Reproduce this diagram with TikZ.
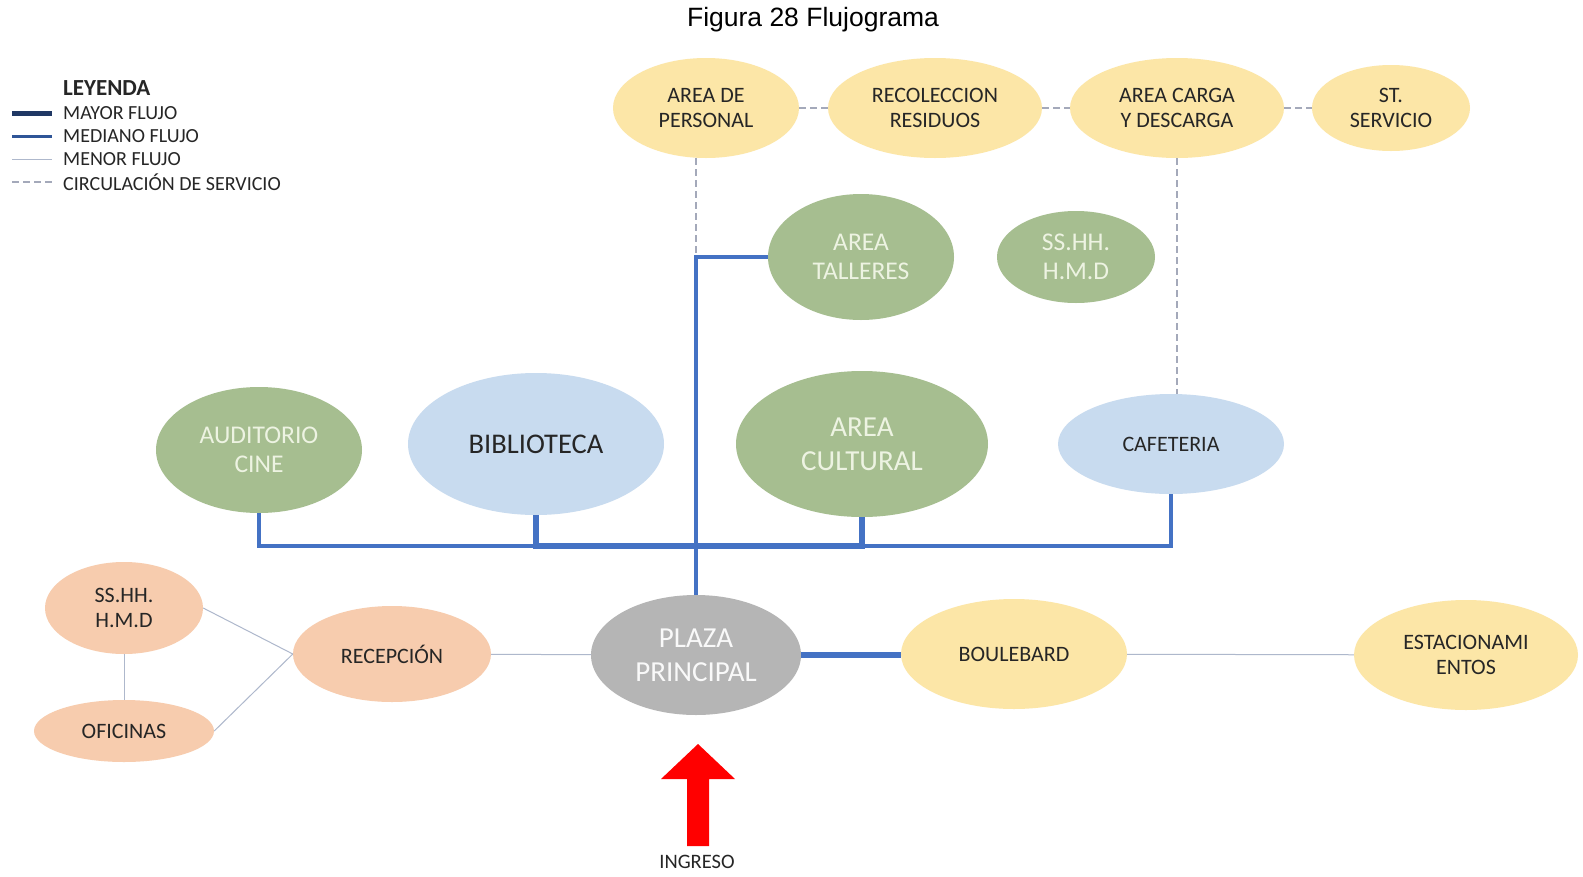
\documentclass[tikz,border=0pt]{standalone}
\usepackage{fontspec}
\setmainfont{Carlito}
\newfontfamily\titlefont{Liberation Sans}
\usetikzlibrary{positioning, shapes.geometric}
\definecolor{zoneyellow}{HTML}{FCE6A7}
\definecolor{zonegreen}{HTML}{A6BE90}
\definecolor{zoneblue}{HTML}{C8DBEF}
\definecolor{zonepeach}{HTML}{F7CCAE}
\definecolor{zonegray}{HTML}{B5B5B5}
\definecolor{flowblue}{HTML}{4472C4}
\definecolor{flownavy}{HTML}{203864}
\definecolor{flowmid}{HTML}{2F5597}
\definecolor{flowthin}{HTML}{AEB8CC}
\definecolor{flowservice}{HTML}{A4A9BA}
\definecolor{textdark}{HTML}{262626}
\definecolor{textlight}{HTML}{EDF3E2}
\tikzstyle{zone-base} = [ellipse, inner sep=0, text centered, align=center,
 text=textdark, font=\fontsize{22}{25}\selectfont]
\tikzstyle{zone-yellow} = [zone-base, fill=zoneyellow]
\tikzstyle{zone-peach} = [zone-base, fill=zonepeach]
\tikzstyle{zone-blue} = [zone-base, fill=zoneblue]
\tikzstyle{zone-green} = [zone-base, fill=zonegreen, text=textlight,
 font=\fontsize{25.5}{29}\selectfont]
\tikzstyle{zone-big} = [font=\fontsize{29}{34}\selectfont]
\tikzstyle{legend-text} = [anchor=west, inner sep=0, text=textdark,
 font=\fontsize{20}{23}\selectfont]
\tikzstyle{major-flow} = [flowblue, line width=6pt]
\tikzstyle{mid-flow} = [flowblue, line width=4.5pt]
\tikzstyle{minor-bus} = [flowblue, line width=3.5pt]
\tikzstyle{minor-flow} = [flowthin, line width=1pt]
\tikzstyle{service-flow} = [flowservice, line width=1.2pt, dash pattern=on 7pt off 4pt]
\newcommand{\LegendRow}[4]{%
    \coordinate (#3_key) at (12,#2);
    \node (#3) [legend-text] at (63,#2) {#4};
    \draw[#1] (#3_key) -- ++(40,0);
}

\begin{document}
\begin{tikzpicture}[x=1pt, y=-1pt]

\useasboundingbox[fill=white] (0,0) rectangle (1583,876);

\node (TITLE) [font=\titlefont\fontsize{26.5}{30}\selectfont] at (813,20) {Figura 28 Flujograma};

% Legend
\node (LEGEND) [legend-text, font=\bfseries\fontsize{23}{27}\selectfont] at (63,88) {LEYENDA};
\LegendRow{flownavy, line width=5pt}{113}{KEY_MAJOR}{MAYOR FLUJO}
\LegendRow{flowmid, line width=3pt}{136}{KEY_MID}{MEDIANO FLUJO}
\LegendRow{flowthin, line width=1pt}{159}{KEY_MINOR}{MENOR FLUJO}
\LegendRow{service-flow}{182}{KEY_SERVICE}{CIRCULACIÓN DE SERVICIO}

% Service zones
\node (AREA_PERSONAL) [zone-yellow, minimum width=186, minimum height=100] at (706,108) {AREA DE\\PERSONAL};
\node (RECOLECCION) [zone-yellow, minimum width=214, minimum height=100] at (935,108) {RECOLECCION\\RESIDUOS};
\node (AREA_CARGA) [zone-yellow, minimum width=214, minimum height=100] at (1177,108) {AREA CARGA\\Y DESCARGA};
\node (ST_SERVICIO) [zone-yellow, minimum width=158, minimum height=86] at (1391,108) {ST.\\SERVICIO};

% Cultural zones
\node (TALLERES) [zone-green, minimum width=186, minimum height=126] at (861,257) {AREA\\TALLERES};
\node (SSHH_PUBLIC) [zone-green, minimum width=158, minimum height=92] at (1076,257) {SS.HH.\\H.M.D};
\node (AUDITORIO) [zone-green, minimum width=206, minimum height=126] at (259,450) {AUDITORIO\\CINE};
\node (BIBLIOTECA) [zone-blue, minimum width=256, minimum height=142, font=\fontsize{28.5}{34}\selectfont] at (536,444) {BIBLIOTECA};
\node (CULTURAL) [zone-green, zone-big, minimum width=252, minimum height=146] at (862,444) {AREA\\CULTURAL};
\node (CAFETERIA) [zone-blue, minimum width=226, minimum height=100] at (1171,444) {CAFETERIA};

% Admin zones
\node (SSHH_ADMIN) [zone-peach, minimum width=158, minimum height=92] at (124,608) {SS.HH.\\H.M.D};
\node (OFICINAS) [zone-peach, minimum width=180, minimum height=62] at (124,731) {OFICINAS};
\node (RECEPCION) [zone-peach, minimum width=198, minimum height=96] at (392,654) {RECEPCIÓN};

% Access zones
\node (PLAZA) [zone-base, zone-big, fill=zonegray, text=white!95!gray, minimum width=210, minimum height=120] at (696,655) {PLAZA\\PRINCIPAL};
\node (BOULEBARD) [zone-yellow, minimum width=226, minimum height=110] at (1014,654) {BOULEBARD};
\node (ESTACIONAMIENTOS) [zone-yellow, minimum width=224, minimum height=110] at (1466,655) {ESTACIONAMI\\ENTOS};

% Service circulation
\draw[service-flow] (AREA_PERSONAL) -- (RECOLECCION);
\draw[service-flow] (RECOLECCION) -- (AREA_CARGA);
\draw[service-flow] (AREA_CARGA) -- (ST_SERVICIO);
\coordinate (TALLER_JOIN) at (PLAZA.north |- TALLERES.west);
\draw[service-flow] (AREA_PERSONAL.south -| TALLER_JOIN) -- (TALLER_JOIN);
\draw[service-flow] (AREA_CARGA.south) -- (AREA_CARGA.south |- CAFETERIA.north);

% Main flows
\coordinate (BUS) at (696,546);
\draw[minor-bus] (AUDITORIO.south) |- (CAFETERIA.south |- BUS) -- (CAFETERIA.south);
\draw[major-flow] (BIBLIOTECA.south) |- (CULTURAL.south |- BUS) -- (CULTURAL.south);
\draw[mid-flow] (PLAZA.north) |- (TALLERES.west);
\draw[major-flow] (PLAZA.east) -- (PLAZA.east -| BOULEBARD.west);

% Minor flows
\draw[minor-flow] (RECEPCION) -- (PLAZA);
\draw[minor-flow] (BOULEBARD) -- (ESTACIONAMIENTOS);
\draw[minor-flow] (SSHH_ADMIN) -- (OFICINAS);
\draw[minor-flow] (SSHH_ADMIN.east) -- (RECEPCION.west);
\draw[minor-flow] (OFICINAS.east) -- (RECEPCION.west);

% Entrance
\fill[red] (687,846) -- (687,779) -- (661,779) -- (698,744) -- (735,779) -- (709,779) -- (709,846) -- cycle;
\node (INGRESO) [text=textdark, font=\fontsize{20.5}{24}\selectfont] at (697,862) {INGRESO};

\end{tikzpicture}
\end{document}
